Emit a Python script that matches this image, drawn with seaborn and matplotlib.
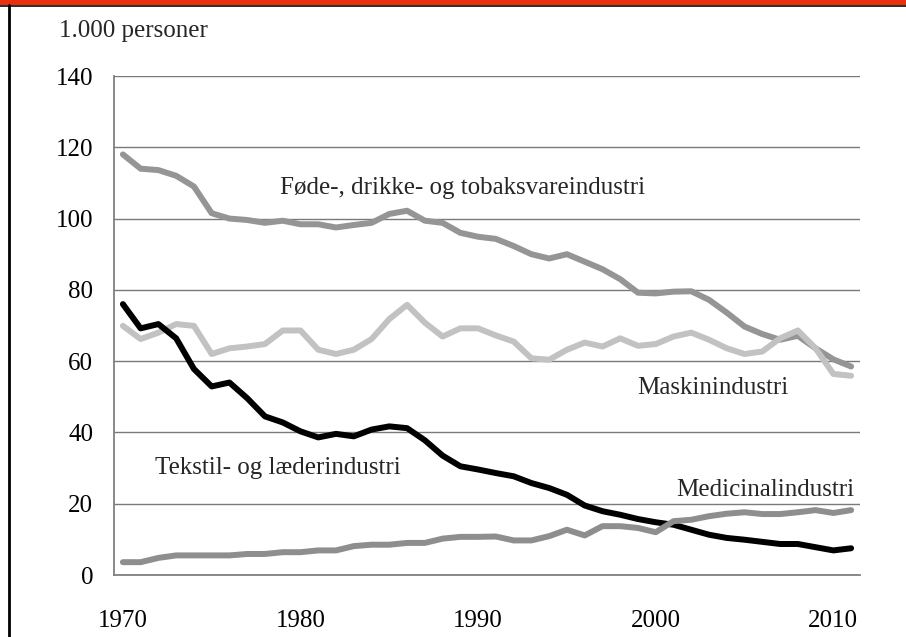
import numpy as np
import pandas as pd
import matplotlib
matplotlib.use("Agg")
import matplotlib.pyplot as plt
from matplotlib.patches import Rectangle
from matplotlib.lines import Line2D
import seaborn as sns

years = list(range(1970, 2012))

fode = [118, 114, 113.6, 112, 109, 101.5, 100, 99.6, 98.8, 99.4,
        98.4, 98.4, 97.5, 98.2, 98.8, 101.3, 102.2, 99.4, 98.8, 96,
        94.9, 94.3, 92.3, 90, 88.8, 90, 87.9, 85.8, 83, 79.2,
        79, 79.5, 79.6, 77.2, 73.6, 69.7, 67.6, 66, 67.1, 63.6,
        60.5, 58.5]

maskin = [69.9, 66.2, 68, 70.4, 69.9, 62, 63.6, 64.1, 64.8, 68.6,
          68.6, 63.2, 62, 63.2, 66.2, 71.8, 75.8, 70.8, 66.9, 69.2,
          69.2, 67.2, 65.5, 60.8, 60.4, 63.2, 65.2, 64.1, 66.4, 64.3,
          64.8, 66.9, 68, 66, 63.6, 62, 62.7, 66.4, 68.6, 63.6,
          56.4, 55.9]

tekstil = [76, 69.2, 70.4, 66.4, 57.8, 52.9, 54, 49.6, 44.5, 42.8,
           40.3, 38.6, 39.6, 38.9, 40.8, 41.7, 41.2, 37.8, 33.5, 30.5,
           29.6, 28.6, 27.7, 25.8, 24.4, 22.5, 19.5, 17.9, 16.9, 15.7,
           14.8, 14.1, 12.7, 11.3, 10.4, 9.9, 9.3, 8.7, 8.7, 7.8,
           6.9, 7.5]

medicinal = [3.6, 3.6, 4.8, 5.5, 5.5, 5.5, 5.5, 5.9, 5.9, 6.4,
             6.4, 6.9, 6.9, 8.1, 8.5, 8.5, 9.0, 9.0, 10.2, 10.7,
             10.7, 10.8, 9.7, 9.7, 10.9, 12.7, 11.1, 13.7, 13.7, 13.2,
             12.0, 15.1, 15.5, 16.5, 17.2, 17.6, 17.1, 17.1, 17.6, 18.2,
             17.4, 18.2]

series_names = ["Føde-, drikke- og tobaksvareindustri", "Maskinindustri",
                "Tekstil- og læderindustri", "Medicinalindustri"]
series_values = [fode, maskin, tekstil, medicinal]
colors = ["#959595", "#c2c2c2", "#000000", "#8e8e8e"]

y_ticks = [0, 20, 40, 60, 80, 100, 120, 140]
x_labels = [1970, 1980, 1990, 2000, 2010]
y_title = "1.000 personer"

df = pd.DataFrame({
    "år": years * len(series_names),
    "værdi": sum(series_values, []),
    "serie": sum([[n] * len(years) for n in series_names], []),
})

sns.set_style("white")
plt.rcParams["font.family"] = ["Liberation Serif", "DejaVu Serif"]

W, H = 906, 637
fig = plt.figure(figsize=(W / 100, H / 100), dpi=100)
left, right, top, bottom = 114, 860, 76, 575
ax = fig.add_axes([left / W, 1 - bottom / H, (right - left) / W, (bottom - top) / H])

sns.lineplot(data=df, x="år", y="værdi", hue="serie", hue_order=series_names,
             palette=dict(zip(series_names, colors)), linewidth=4.3,
             legend=False, ax=ax, solid_capstyle="round", solid_joinstyle="round")

fs = 18
ax.set_xlim(1969.5, 2011.5)
ax.set_ylim(0, 140)
ax.set_yticks(y_ticks)
ax.set_yticklabels([str(v) for v in y_ticks])
ax.set_xticks(x_labels)
ax.set_xticklabels([str(v) for v in x_labels])
ax.set_xticks([y + 0.5 for y in range(1969, 2010, 5)], minor=True)
ax.tick_params(axis="x", which="major", length=0, pad=25, labelsize=fs, colors="#000000")
ax.tick_params(axis="x", which="minor", length=6, width=1.3, color="#808080", direction="out")
ax.tick_params(axis="y", which="major", length=5, width=1.3, color="#808080", direction="out",
               pad=10, labelsize=fs, labelcolor="#000000")
ax.set_xlabel("")
ax.set_ylabel("")
ax.grid(axis="y", color="#7a7a7a", linewidth=1.0)
ax.set_axisbelow(True)
for s in ["top", "right"]:
    ax.spines[s].set_visible(False)
for s in ["left", "bottom"]:
    ax.spines[s].set_color("#808080")
    ax.spines[s].set_linewidth(1.3)

ax.text(1978.85, 106.9, series_names[0], fontsize=fs, ha="left", va="baseline")
ax.text(1998.95, 50.8, series_names[1], fontsize=fs, ha="left", va="baseline")
ax.text(1971.8, 28.4, series_names[2], fontsize=fs, ha="left", va="baseline")
ax.text(2011.17, 22.3, series_names[3], fontsize=fs, ha="right", va="baseline")

fig.text(59 / W, 1 - 37 / H, y_title, fontsize=fs, ha="left", va="baseline")

# frame decoration
fig.patches.append(Rectangle((0, 1 - 5 / H), 1, 5 / H, transform=fig.transFigure,
                             facecolor="#e8300a", edgecolor="none"))
fig.lines.append(Line2D([0, 1], [1 - 5.8 / H, 1 - 5.8 / H], transform=fig.transFigure,
                        color="#1a1a1a", linewidth=1.3))
fig.lines.append(Line2D([9 / W, 9 / W], [0, 1 - 5 / H], transform=fig.transFigure,
                        color="#000000", linewidth=2.0))

fig.savefig("out.png", dpi=100)
